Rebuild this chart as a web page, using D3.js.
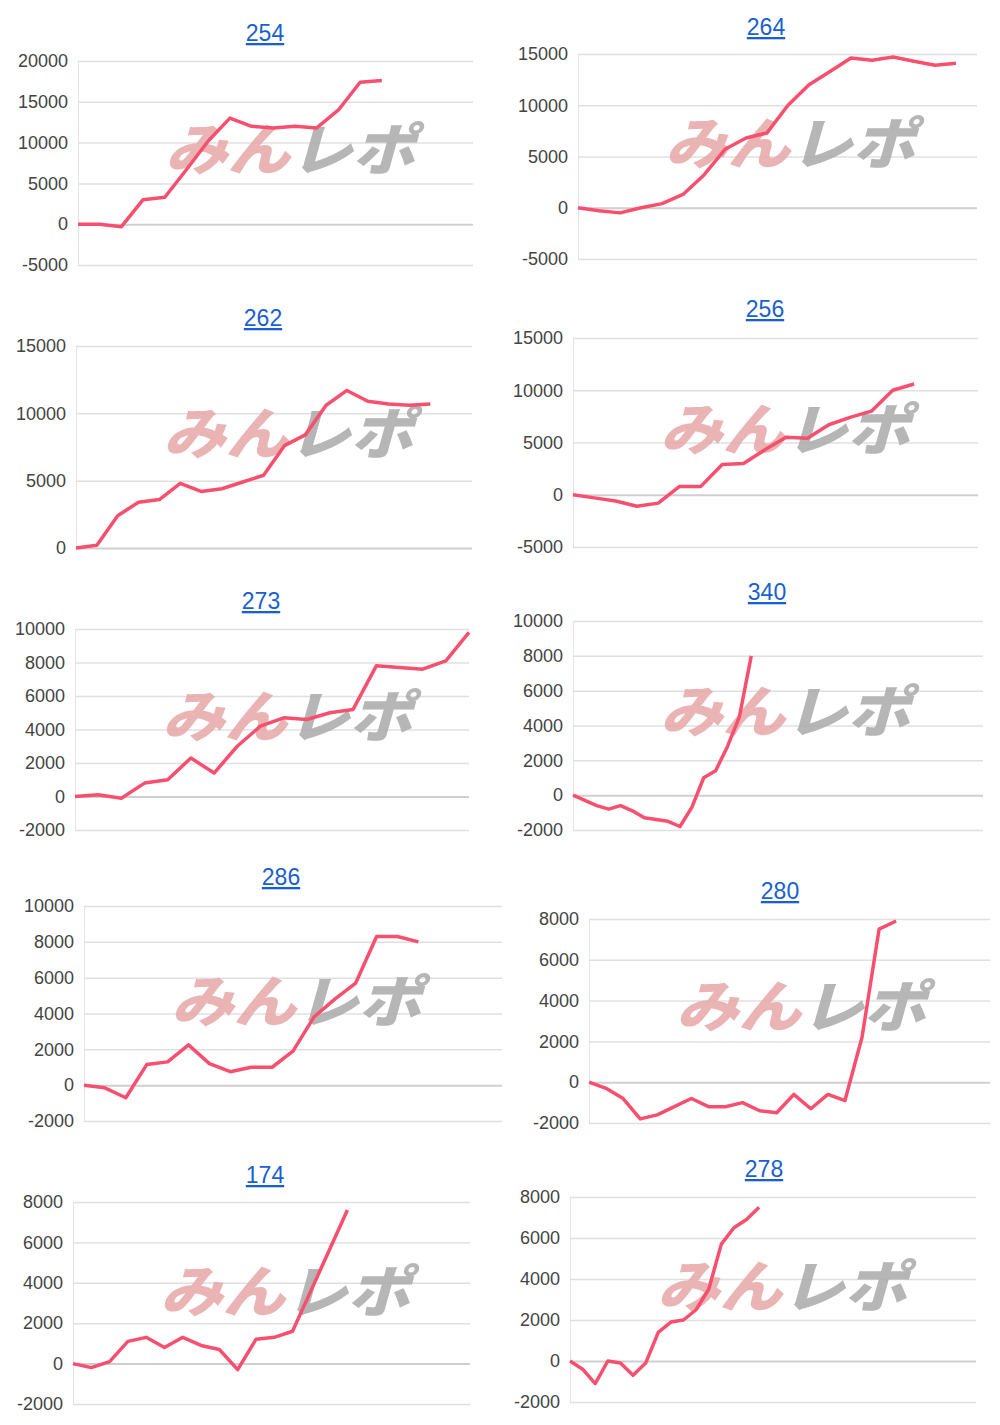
<!DOCTYPE html>
<html><head><meta charset="utf-8">
<script src="https://cdn.jsdelivr.net/npm/d3@7"></script>
<style>body{margin:0;background:#fff}</style></head>
<body><svg id="c" width="1000" height="1425"></svg>
<script>
const titles = ["254","264","262","256","273","340","286","280","174","278"];
const s254 = [0,0,-300,3000,3300,6700,10200,13000,12000,11800,12000,11800,14000,17400,17600];
const s264 = [0,-300,-500,0,400,1300,3200,5700,6800,7300,10000,12000,13300,14600,14400,14700,14300,13900,14100];
const s262 = [0,200,2400,3400,3600,4800,4200,4400,4900,5400,7600,8400,10600,11700,10900,10700,10600,10700];
const s256 = [0,-300,-600,-1100,-800,800,800,2900,3000,4300,5500,5400,6700,7400,8000,10000,10600];
const s273 = [0,100,-100,800,1000,2300,1400,3000,4200,4700,4600,5000,5200,7800,7700,7600,8100,9800];
const s340 = [0,-300,-600,-800,-600,-900,-1300,-1400,-1500,-1800,-700,1000,1400,2800,4500,8000];
const s286 = [0,-150,-700,1150,1300,2250,1200,750,1000,1000,1900,3800,4800,5700,8300,8300,8000];
const s280 = [0,-300,-800,-1800,-1600,-1200,-800,-1200,-1200,-1000,-1400,-1500,-600,-1300,-600,-900,2200,7500,7900];
const s174 = [0,-200,100,1100,1300,800,1300,900,700,-300,1200,1300,1600,3600,5600,7600];
const s278 = [0,-400,-1100,0,-100,-700,-100,1400,1900,2000,2500,3500,5700,6500,6900,7500];
const series = [s254,s264,s262,s256,s273,s340,s286,s280,s174,s278];
const yTicks = [
 [-5000,0,5000,10000,15000,20000],[-5000,0,5000,10000,15000],[0,5000,10000,15000],[-5000,0,5000,10000,15000],
 [-2000,0,2000,4000,6000,8000,10000],[-2000,0,2000,4000,6000,8000,10000],[-2000,0,2000,4000,6000,8000,10000],
 [-2000,0,2000,4000,6000,8000],[-2000,0,2000,4000,6000,8000],[-2000,0,2000,4000,6000,8000]];
const xMax = [18.2,19,19,19,17,34.5,20,23.5,21.7,32.2];
// layout: [axisX, rightX, topY, bottomY, titleX, titleY]
const layout = [
 [78,473,61,265,265,33],[578,977,54,259,766,27],[76,472,346,548,263,318],[573,978,338,547,765,309],
 [75,469,629,830,261,601],[573,983,621,830,767,592],[84,502,906,1121,281,877],[589,990,919,1123,780,891],
 [73,470,1202,1404,265,1175],[570,976,1197,1402,764,1169]];
const wmY = [148,142,432,428,715,710,1000,1005,1290,1285];
const svg = d3.select("#c");
series.forEach((data,i)=>{
  const [ax,rx,ty,by,tx,tyy] = layout[i];
  const tk = yTicks[i];
  const g = svg.append("g");
  const y = d3.scaleLinear().domain([tk[0],tk[tk.length-1]]).range([by,ty]);
  const x = d3.scaleLinear().domain([0,xMax[i]]).range([ax,rx]);
  const axis = d3.axisLeft(y).tickValues(tk).tickSize(-(rx-ax)).tickPadding(10).tickFormat(d=>String(d));
  const ag = g.append("g").attr("transform",`translate(${ax},0)`).call(axis);
  ag.select(".domain").attr("stroke","#e4e4e4");
  ag.selectAll(".tick line").attr("stroke","#e0e0e0").attr("stroke-width",1.5);
  ag.selectAll(".tick line").filter(d=>d===0).attr("stroke","#cfcfcf").attr("stroke-width",2);
  ag.selectAll("text").attr("fill","#444").style("font-family","Liberation Sans, Arial, sans-serif").style("font-size","18px");
  // watermark
  const cx = ax + 212, cy = wmY[i];
  const wm = g.append("text").attr("x",cx).attr("y",cy+22).attr("text-anchor","middle")
    .attr("textLength",250).attr("lengthAdjust","spacingAndGlyphs")
    .style("font-family","Noto Sans CJK JP").style("font-weight","900").style("font-size","56px").style("font-style","italic");
  wm.append("tspan").attr("fill","#e8a8a8").attr("opacity",0.85).text("みん");
  wm.append("tspan").attr("fill","#aaaaaa").attr("opacity",0.85).text("レポ");
  g.append("path").datum(data).attr("fill","none").attr("stroke","#f7506e").attr("stroke-width",3.5)
    .attr("stroke-linejoin","round")
    .attr("d",d3.line().x((d,j)=>x(j)).y(d=>y(d)));
  g.append("text").attr("x",tx).attr("y",tyy+8).attr("text-anchor","middle").attr("fill","#1a5fd0")
    .style("font-family","Liberation Sans, Arial, sans-serif").style("font-size","23px")
    .style("text-decoration","underline").text(titles[i]);
});
</script></body></html>
